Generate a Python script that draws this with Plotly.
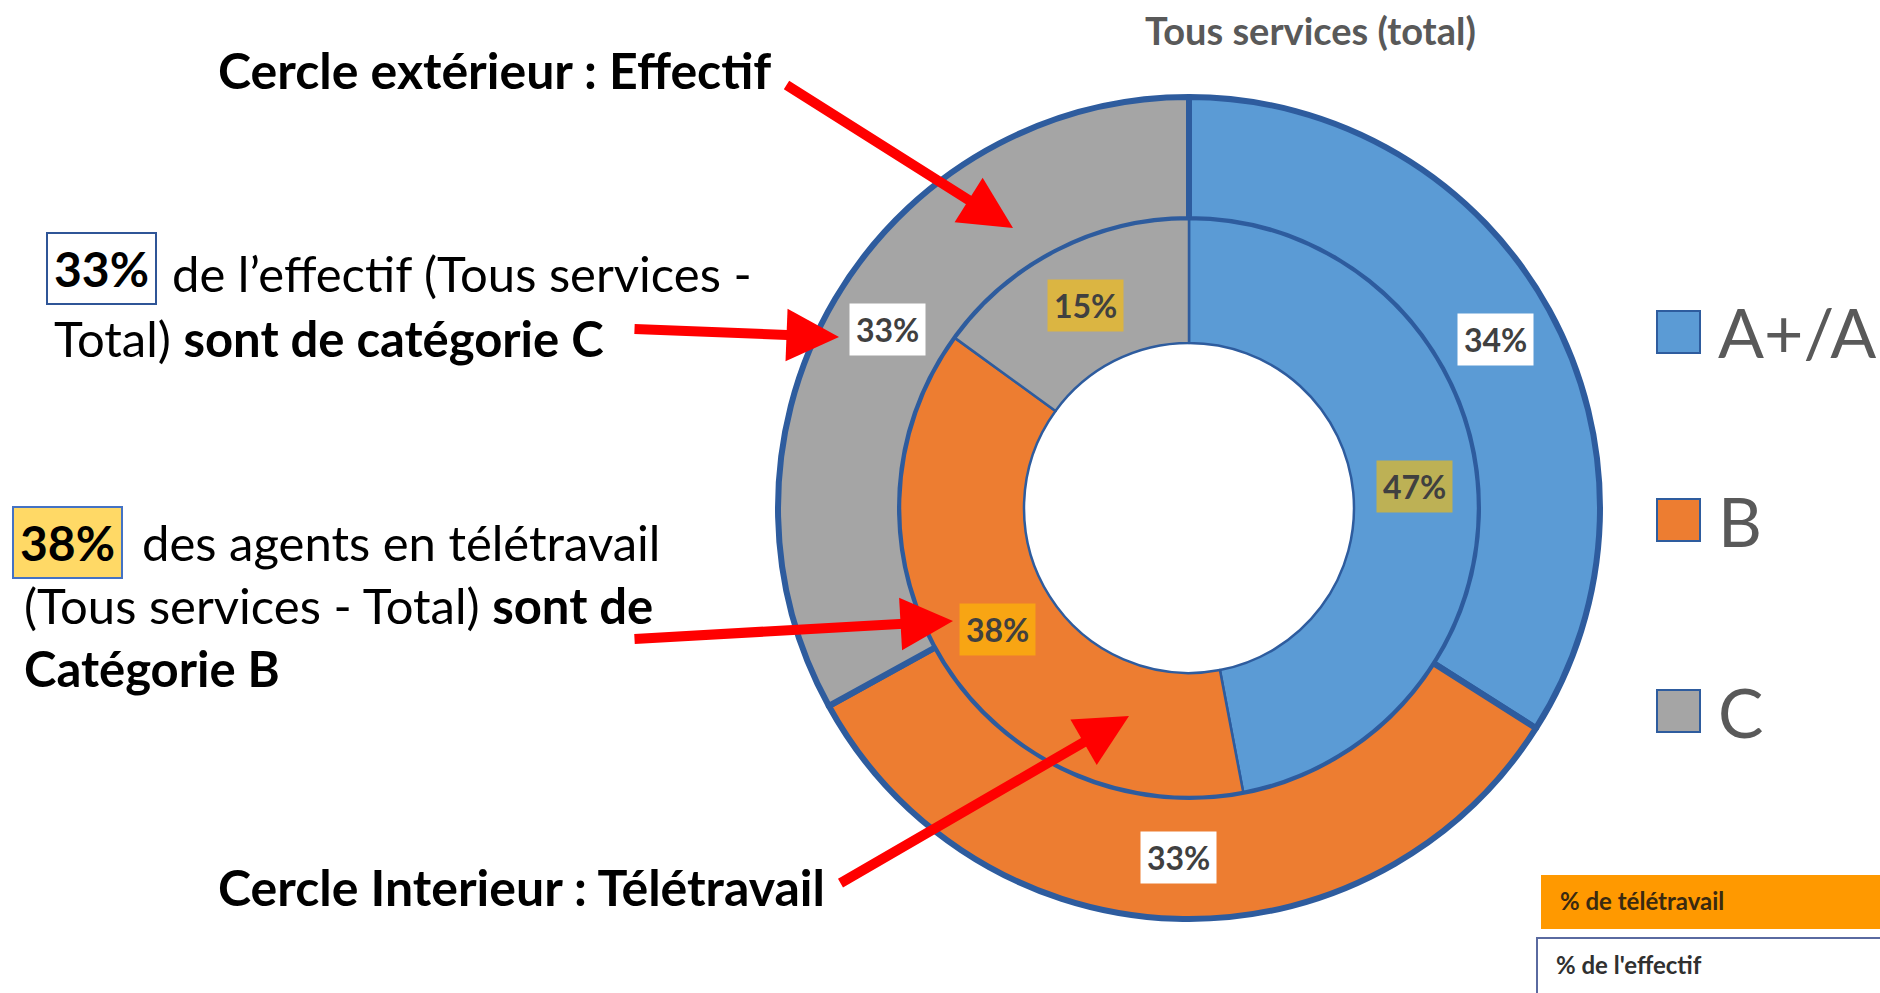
import math
import plotly.graph_objects as go

# ---------------- data ----------------
categories = ["A+/A", "B", "C"]
effectif_pct = [34, 33, 33]        # outer ring: % de l'effectif
teletravail_pct = [47, 38, 15]     # inner ring: % de télétravail
colors = ["#5B9BD5", "#ED7D31", "#A5A5A5"]

title_text = "Tous services (total)"

# ---------------- layout constants ----------------
W, H = 1880, 993
CX, CY = 1189, 508          # donut centre (px, from top)
R_OUT, R_MID, R_IN = 411, 289, 165
BORDER = "#2E5C9E"
FONT = "Lato"


def px(x):
    return x / W


def py(y):
    return 1 - y / H


def domain(r):
    return dict(x=[px(CX - r), px(CX + r)], y=[py(CY + r), py(CY - r)])


fig = go.Figure()
fig.add_trace(go.Pie(
    labels=categories, values=effectif_pct, sort=False, direction="clockwise",
    rotation=0, hole=R_MID / R_OUT, domain=domain(R_OUT),
    marker=dict(colors=colors, line=dict(color=BORDER, width=6)),
    textinfo="none", hoverinfo="label+percent", showlegend=False, name="effectif"))
fig.add_trace(go.Pie(
    labels=categories, values=teletravail_pct, sort=False, direction="clockwise",
    rotation=0, hole=R_IN / R_MID, domain=domain(R_MID),
    marker=dict(colors=colors, line=dict(color=BORDER, width=2.5)),
    textinfo="none", hoverinfo="label+percent", showlegend=False, name="télétravail"))

annotations = []
shapes = []


def ring_labels(values, r_a, r_b, bg):
    total = sum(values)
    cum = 0
    r = (r_a + r_b) / 2
    for v in values:
        mid = (cum + v / 2) / total * 2 * math.pi
        cum += v
        x = CX + r * math.sin(mid)
        y = CY - r * math.cos(mid)
        annotations.append(dict(
            x=px(x), y=py(y), xref="paper", yref="paper", showarrow=False,
            xanchor="center", yanchor="middle",
            text=f"<b>{round(v / total * 100)}%</b>",
            font=dict(family=FONT, size=32, color="#404040"),
            bgcolor=bg, borderpad=6))


ring_labels(effectif_pct, R_MID, R_OUT, "white")
ring_labels(teletravail_pct, R_IN, R_MID, "rgba(255,192,0,0.6)")

# title
annotations.append(dict(x=px(1310), y=py(30), xref="paper", yref="paper", showarrow=False,
                        xanchor="center", yanchor="middle",
                        text="<b>" + title_text + "</b>",
                        font=dict(family=FONT, size=38, color="#595959")))

# legend (custom)
leg_y = [332, 520, 711]
for cat, col, yy in zip(categories, colors, leg_y):
    shapes.append(dict(type="rect", xref="paper", yref="paper",
                       x0=px(1657), x1=px(1700), y0=py(yy + 21), y1=py(yy - 21),
                       fillcolor=col, line=dict(color=BORDER, width=2)))
    annotations.append(dict(x=px(1716), y=py(yy), xref="paper", yref="paper",
                            xanchor="left", yanchor="middle", showarrow=False,
                            text=cat, font=dict(family=FONT, size=68, color="#595959")))


# left-side explanatory texts
def txt(x, y, s, size=49):
    annotations.append(dict(x=px(x), y=py(y), xref="paper", yref="paper",
                            xanchor="left", yanchor="middle", showarrow=False,
                            text=s, font=dict(family=FONT, size=size, color="black")))


txt(216, 70, "<b>Cercle extérieur : Effectif</b>", 50)

annotations.append(dict(x=px(101), y=py(269), xref="paper", yref="paper", showarrow=False,
                        xanchor="center", yanchor="middle",
                        text="<b>33%</b>", font=dict(family=FONT, size=48, color="black"),
                        bgcolor="white", bordercolor="#2F5597", borderwidth=2, borderpad=6))
txt(170, 273, "de l’effectif (Tous services -")
txt(52, 338, "Total) <b>sont de catégorie C</b>")

annotations.append(dict(x=px(67), y=py(542), xref="paper", yref="paper", showarrow=False,
                        xanchor="center", yanchor="middle",
                        text="<b>38%</b>", font=dict(family=FONT, size=48, color="black"),
                        bgcolor="#FFD966", bordercolor="#4472C4", borderwidth=2, borderpad=6))
txt(140, 542, "des agents en télétravail")
txt(22, 605, "(Tous services - Total) <b>sont de</b>")
txt(22, 668, "<b>Catégorie B</b>")

txt(216, 887, "<b>Cercle Interieur : Télétravail</b>", 50)

# red arrows (tip, tail)
arrows = [((1013, 228), (785, 84)), ((839, 337), (633, 329)),
          ((953, 621), (633, 639)), ((1129, 716), (839, 884))]
for (tx, ty), (sx, sy) in arrows:
    annotations.append(dict(x=px(tx), y=py(ty), xref="paper", yref="paper",
                            ax=sx - tx, ay=sy - ty, axref="pixel", ayref="pixel",
                            text="", showarrow=True, arrowhead=2, arrowsize=1.05,
                            arrowwidth=10, arrowcolor="#FF0000", standoff=0))

# bottom-right table fragment
shapes.append(dict(type="rect", xref="paper", yref="paper", x0=px(1541), x1=px(1885),
                   y0=py(929), y1=py(875), fillcolor="#FF9900", line=dict(width=0)))
shapes.append(dict(type="rect", xref="paper", yref="paper", x0=px(1537), x1=px(1890),
                   y0=py(1000), y1=py(938), fillcolor="white",
                   line=dict(color="#5A6AA0", width=2)))
annotations.append(dict(x=px(1558), y=py(900), xref="paper", yref="paper", xanchor="left",
                        yanchor="middle", showarrow=False, text="<b>% de télétravail</b>",
                        font=dict(family=FONT, size=24, color="#3A2A10")))
annotations.append(dict(x=px(1554), y=py(964), xref="paper", yref="paper", xanchor="left",
                        yanchor="middle", showarrow=False, text="<b>% de l'effectif</b>",
                        font=dict(family=FONT, size=24, color="#303030")))

fig.update_layout(width=W, height=H, margin=dict(l=0, r=0, t=0, b=0),
                  paper_bgcolor="white", plot_bgcolor="white",
                  annotations=annotations, shapes=shapes, showlegend=False)

fig.write_html("out.html", config={"displayModeBar": False},
               post_script="document.body.style.margin='0';document.body.style.overflow='hidden';")
